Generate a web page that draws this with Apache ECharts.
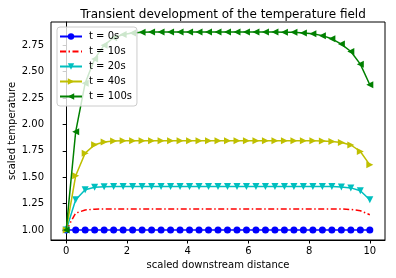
<!DOCTYPE html>
<html>
<head>
<meta charset="utf-8">
<script src="https://cdn.jsdelivr.net/npm/echarts@6/dist/echarts.min.js"></script>
<style>
html,body{margin:0;padding:0;background:#fff;}
#chart{width:396px;height:278px;}
</style>
</head>
<body>
<div id="chart"></div>
<script>
// x grid: 33 points from 0 to 10
const xValues = [0, 0.3125, 0.625, 0.9375, 1.25, 1.5625, 1.875, 2.1875, 2.5, 2.8125, 3.125, 3.4375, 3.75, 4.0625, 4.375, 4.6875, 5, 5.3125, 5.625, 5.9375, 6.25, 6.5625, 6.875, 7.1875, 7.5, 7.8125, 8.125, 8.4375, 8.75, 9.0625, 9.375, 9.6875, 10];

const seriesNames = ['t = 0s', 't = 10s', 't = 20s', 't = 40s', 't = 100s'];

const t0 = [1,1,1,1,1,1,1,1,1,1,1,1,1,1,1,1,1,1,1,1,1,1,1,1,1,1,1,1,1,1,1,1,1];
const t10 = [1.0, 1.16, 1.19, 1.198, 1.2, 1.2, 1.2, 1.2, 1.2, 1.2, 1.2, 1.2, 1.2, 1.2, 1.2, 1.2, 1.2, 1.2, 1.2, 1.2, 1.2, 1.2, 1.2, 1.2, 1.2, 1.2, 1.2, 1.2, 1.2, 1.199, 1.195, 1.183, 1.145];
const t20 = [1.0, 1.287, 1.381, 1.405, 1.411, 1.413, 1.413, 1.413, 1.413, 1.413, 1.413, 1.413, 1.413, 1.413, 1.413, 1.413, 1.413, 1.413, 1.413, 1.413, 1.413, 1.413, 1.413, 1.413, 1.413, 1.413, 1.413, 1.413, 1.412, 1.408, 1.399, 1.372, 1.287];
const t40 = [1.0, 1.514, 1.728, 1.807, 1.833, 1.842, 1.845, 1.846, 1.846, 1.846, 1.846, 1.846, 1.846, 1.846, 1.846, 1.846, 1.846, 1.846, 1.846, 1.846, 1.846, 1.846, 1.846, 1.846, 1.846, 1.846, 1.845, 1.843, 1.838, 1.828, 1.805, 1.744, 1.617];
const t100 = [1.0, 1.93, 2.39, 2.62, 2.75, 2.82, 2.85, 2.865, 2.872, 2.875, 2.875, 2.875, 2.875, 2.875, 2.875, 2.875, 2.875, 2.875, 2.875, 2.875, 2.875, 2.875, 2.874, 2.873, 2.871, 2.866, 2.857, 2.84, 2.81, 2.76, 2.69, 2.57, 2.375];

const xTicks = [0, 2, 4, 6, 8, 10];
const yTicks = [1.0, 1.25, 1.5, 1.75, 2.0, 2.25, 2.5, 2.75];

const seriesValues = [t0, t10, t20, t40, t100];
const colors = ['#0000ff', '#ff0000', '#00bfbf', '#bfbf00', '#008000'];
const symbols = ['circle', 'none', 'triangle', 'triangle', 'triangle'];
const rotations = [0, 0, 180, -90, 90];

const FONT = 'DejaVu Sans';

const series = seriesValues.map((vals, k) => ({
  name: seriesNames[k],
  type: 'line',
  data: xValues.map((x, i) => [x, vals[i]]),
  symbol: symbols[k],
  symbolSize: 7,
  symbolRotate: rotations[k],
  showSymbol: symbols[k] !== 'none',
  color: colors[k],
  lineStyle: {
    width: 1.5,
    color: colors[k],
    type: k === 1 ? [6, 2.5, 1.5, 2.5] : 'solid'
  },
  itemStyle: { color: colors[k], borderWidth: 0 },
  emphasis: { disabled: true },
  silent: true,
  z: 2 + k * 0.01
}));

const legendData = seriesNames.map((n, k) => (symbols[k] === 'none'
  ? { name: n, itemStyle: { opacity: 0 } }
  : { name: n }));

const chart = echarts.init(document.getElementById('chart'), null, { renderer: 'canvas' });
chart.setOption({
  animation: false,
  backgroundColor: '#ffffff',
  title: {
    text: 'Transient development of the temperature field',
    left: 218, top: 4, textAlign: 'center',
    textStyle: { fontFamily: FONT, fontSize: 12, fontWeight: 'normal', color: '#000' }
  },
  grid: {
    left: 51, right: 11, top: 22, bottom: 38,
    outerBoundsMode: 'none',
    containLabel: false,
    show: true, borderColor: '#000', borderWidth: 1, backgroundColor: 'transparent'
  },
  legend: {
    orient: 'vertical',
    left: 57, top: 27,
    data: legendData,
    itemWidth: 22, itemHeight: 8, itemGap: 4,
    padding: [4, 5, 4, 2],
    backgroundColor: 'rgba(255,255,255,0.8)',
    borderColor: '#cccccc', borderWidth: 1, borderRadius: 3,
    textStyle: { fontFamily: FONT, fontSize: 10, color: '#000', lineHeight: 11, padding: [0, 0, 0, 2] },
    selectedMode: false
  },
  xAxis: {
    type: 'value', min: -0.5, max: 10.5,
    name: 'scaled downstream distance', nameLocation: 'middle', nameGap: 20,
    nameMoveOverlap: false,
    nameTextStyle: { fontFamily: FONT, fontSize: 10, color: '#000' },
    axisLine: { show: true, lineStyle: { color: '#000', width: 1 } },
    axisTick: { show: true, inside: false, length: 3.5, lineStyle: { color: '#000' }, customValues: xTicks },
    axisLabel: { fontFamily: FONT, fontSize: 10, color: '#000', margin: 6, customValues: xTicks, formatter: v => String(v) },
    splitLine: { show: false }
  },
  yAxis: {
    type: 'value', min: 0.906, max: 2.969,
    name: 'scaled temperature', nameLocation: 'middle', nameGap: 34,
    nameMoveOverlap: false,
    nameTextStyle: { fontFamily: FONT, fontSize: 10, color: '#000' },
    axisLine: { show: true, lineStyle: { color: '#000', width: 1 } },
    axisTick: { show: true, inside: false, length: 3.5, lineStyle: { color: '#000' }, customValues: yTicks },
    axisLabel: { fontFamily: FONT, fontSize: 10, color: '#000', margin: 7, customValues: yTicks, formatter: v => v.toFixed(2) },
    splitLine: { show: false }
  },
  series: series
});
</script>
</body>
</html>
